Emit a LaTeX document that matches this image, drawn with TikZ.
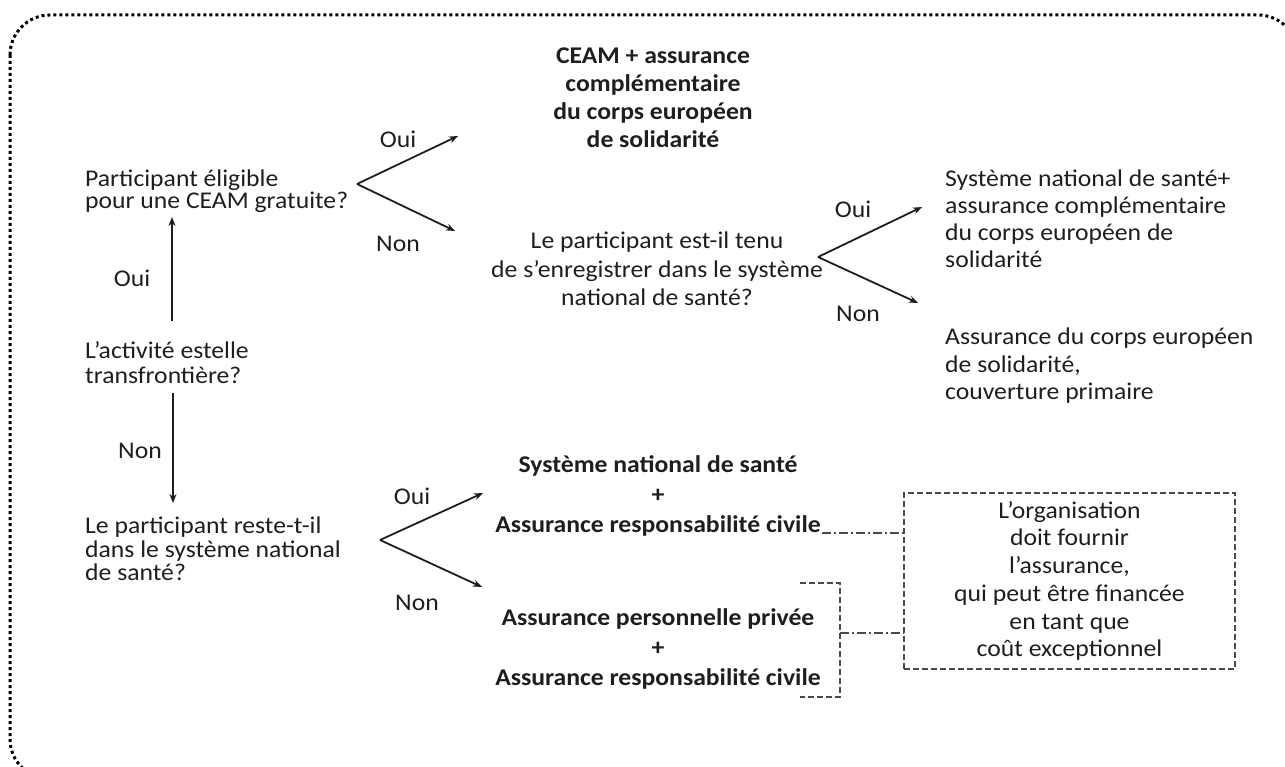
\documentclass[tikz,border=0pt]{standalone}
\usepackage{fontspec}
\setmainfont{Carlito}[FakeStretch=1.07]
\usetikzlibrary{arrows.meta}
\definecolor{ink}{HTML}{1E1E1E}
\definecolor{dashgray}{HTML}{4A4A4A}
\tikzset{
  txt/.style={inner sep=0pt, text=ink, font=\fontsize{24}{#1}\selectfont},
  txt/.default=22,
  lbl/.style={inner sep=0pt, text=ink, font=\fontsize{24}{28}\selectfont},
  arr/.style={line width=1.8pt, draw=ink, -{Stealth[length=9pt,width=7pt]}},
  dashbox/.style={draw=dashgray, line width=1.3pt, dash pattern=on 6pt off 3pt},
  dashdot/.style={draw=dashgray, line width=1.3pt, dash pattern=on 9pt off 3pt on 2pt off 3pt},
  border/.style={draw=black, line width=3pt, dash pattern=on 3pt off 3pt, rounded corners=40pt}
}
\begin{document}
\begin{tikzpicture}[x=1pt,y=-1pt]
\useasboundingbox (0,0) rectangle (1285,767);
\draw[border] (10,15) rectangle (1298,779);

% question nodes
\node[txt=21.5, anchor=west, align=left] (q1) at (85,191) {Participant éligible\\pour une CEAM gratuite?};
\node[txt=25, anchor=west, align=left] (q0) at (85,363) {L’activité estelle\\transfrontière?};
\node[txt=23.5, anchor=west, align=left] (q3) at (85,549) {Le participant reste-t-il\\dans le système national\\de santé?};
\node[txt=28.5, align=center] (q2) at (657,269) {Le participant est-il tenu\\de s’enregistrer dans le système\\national de santé?};

% outcomes
\node[txt=28, align=center, font=\bfseries\fontsize{24}{28}\selectfont] (ceam) at (653,98) {CEAM + assurance\\complémentaire\\du corps européen\\de solidarité};
\node[txt=27, anchor=west, align=left] (r1) at (945,219) {Système national de santé+\\assurance complémentaire\\du corps européen de\\solidarité};
\node[txt=27.5, anchor=west, align=left] (r2) at (945,366) {Assurance du corps européen\\de solidarité,\\couverture primaire};
\node[txt=30, align=center, font=\bfseries\fontsize{24}{30}\selectfont] (b1) at (658,496) {Système national de santé\\+\\Assurance responsabilité civile};
\node[txt=30, align=center, font=\bfseries\fontsize{24}{30}\selectfont] (b2) at (658,649) {Assurance personnelle privée\\+\\Assurance responsabilité civile};
\node[dashbox, txt=27.7, align=center, minimum width=331pt, minimum height=176pt] (org) at (1069.5,581) {L’organisation\\doit fournir\\l’assurance,\\qui peut être financée\\en tant que\\coût exceptionnel};

% fork coordinates
\coordinate (f1) at (357,184);
\coordinate (f1a) at (458,136);
\coordinate (f1b) at (455,231);
\coordinate (f2) at (818,257);
\coordinate (f2a) at (922,207);
\coordinate (f2b) at (918,303);
\coordinate (f3) at (380,540);
\coordinate (f3a) at (483,493);
\coordinate (f3b) at (482,587);

\draw[arr] (f1) -- (f1a);
\draw[arr] (f1) -- (f1b);
\draw[arr] (f2) -- (f2a);
\draw[arr] (f2) -- (f2b);
\draw[arr] (f3) -- (f3a);
\draw[arr] (f3) -- (f3b);

% vertical connectors
\coordinate (v0a) at (172,321);
\coordinate (v1) at (172,217);
\coordinate (v0b) at (173,393);
\coordinate (v3) at (173,503);
\draw[arr] (v0a) -- (v1);
\draw[arr] (v0b) -- (v3);

% labels
\node[lbl] (l1) at (398,139) {Oui};
\node[lbl] (l2) at (398,244) {Non};
\node[lbl] (l3) at (853,209) {Oui};
\node[lbl] (l4) at (858,314) {Non};
\node[lbl] (l5) at (132,278) {Oui};
\node[lbl] (l6) at (140,451) {Non};
\node[lbl] (l7) at (412,496) {Oui};
\node[lbl] (l8) at (417,603) {Non};

% dashed links
\coordinate (c1) at (822,533);
\draw[dashdot] (c1) -- (org.west |- c1);
\coordinate (bt) at (800,583);
\coordinate (bb) at (800,697);
\draw[dashbox] (bt) -- (840,583) -- (840,697) -- (bb);
\coordinate (bm) at (840,633);
\draw[dashdot] (bm) -- (org.west |- bm);
\end{tikzpicture}
\end{document}
